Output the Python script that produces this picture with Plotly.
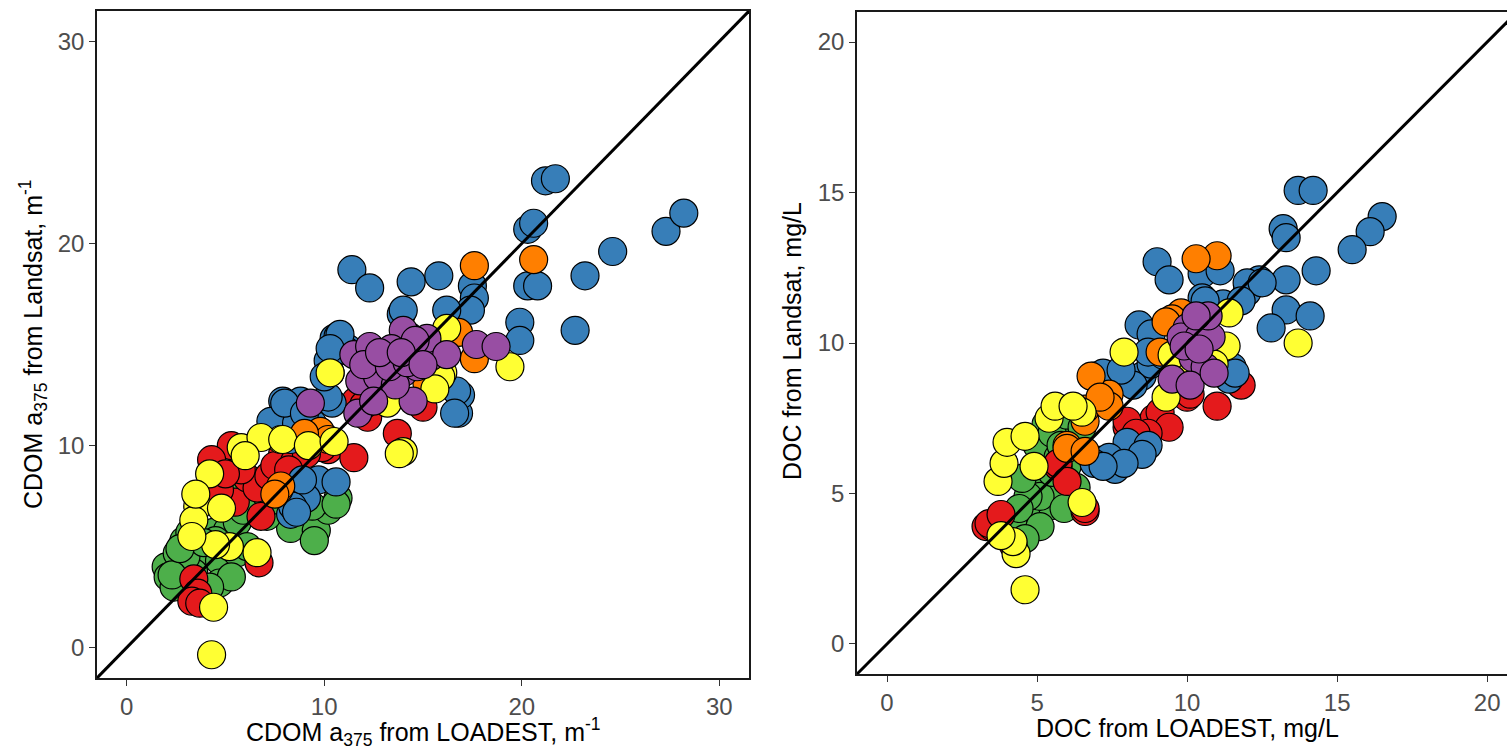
import plotly.graph_objects as go

# ---------------- data: left panel (CDOM a375, m^-1) ----------------
left_green_x = [8.3, 9.6, 9.5, 10.7, 2.0, 2.1, 2.56, 2.9, 3.2, 3.7, 4.4, 5.1, 5.6, 3.4, 4.1, 4.7, 5.6, 4.7, 5.3, 2.9, 3.4, 2.4, 3.7, 4.2, 5.4, 6.3, 7.1, 10.2, 9.4, 6.1, 3.0, 2.3, 4.5, 10.6, 3.9, 2.7, 5.9, 7.4]
left_green_y = [5.9, 5.8, 5.3, 7.4, 4.0, 3.5, 4.67, 5.3, 5.7, 5.7, 5.7, 5.8, 6.2, 4.3, 4.7, 4.3, 4.7, 3.2, 3.5, 3.2, 3.7, 3.0, 2.9, 3.0, 7.9, 7.6, 6.5, 6.8, 7.0, 5.0, 4.5, 3.6, 5.3, 7.1, 5.2, 4.9, 6.8, 7.3]

left_red_x = [5.5, 5.3, 6.1, 6.8, 6.7, 3.4, 3.6, 10.2, 11.5, 9.5, 7.9, 4.7, 6.6, 12.2, 13.7, 15.0, 11.6, 9.9, 3.3, 5.8, 7.2, 12.0, 4.3, 7.5, 3.7, 8.5, 9.1, 8.2, 5.0]
left_red_y = [7.2, 10.0, 8.4, 6.5, 4.2, 3.4, 2.7, 9.8, 9.4, 10.8, 9.6, 7.8, 7.9, 11.4, 10.6, 11.9, 12.2, 9.9, 2.3, 8.8, 8.5, 12.0, 9.3, 9.0, 2.2, 9.2, 9.6, 8.8, 8.6]

left_blue_x = [21.2, 21.7, 20.3, 20.6, 27.3, 28.2, 24.6, 23.2, 22.7, 20.3, 20.8, 19.9, 19.9, 11.4, 12.3, 14.4, 15.8, 17.5, 17.6, 17.4, 16.2, 13.9, 16.8, 16.9, 10.5, 11.2, 10.2, 10.3, 7.9, 8.8, 7.3, 10.4, 8.3, 9.7, 10.6, 8.3, 9.1, 8.4, 8.6, 9.4, 10.7, 11.1, 14.0, 8.0, 10.2, 16.7, 16.6, 8.9, 8.6, 10.8, 10.3, 10.0, 9.0]
left_blue_y = [23.1, 23.2, 20.7, 21.0, 20.6, 21.5, 19.6, 18.4, 15.7, 17.9, 17.9, 16.1, 15.2, 18.7, 17.8, 18.1, 18.4, 17.9, 17.3, 16.7, 16.7, 16.5, 11.6, 12.5, 15.3, 14.8, 14.2, 13.6, 12.2, 12.2, 11.2, 12.1, 10.3, 8.3, 8.2, 6.6, 7.4, 7.0, 11.1, 11.1, 15.4, 14.7, 16.7, 12.1, 12.4, 12.7, 11.6, 8.3, 6.7, 15.5, 14.8, 13.4, 11.6]

left_orange_x = [17.6, 20.6, 17.6, 16.8, 7.7, 9.8, 15.5, 15.2, 10.2, 9.0, 7.8, 7.5]
left_orange_y = [18.9, 19.2, 14.3, 15.6, 7.8, 10.7, 13.3, 13.1, 10.3, 10.6, 8.0, 7.6]

left_yellow_x = [4.3, 4.4, 6.6, 5.8, 7.8, 6.8, 4.2, 3.6, 4.8, 3.4, 10.3, 13.2, 14.0, 16.0, 16.2, 19.4, 7.9, 13.8, 15.9, 3.5, 5.2, 4.5, 3.3, 9.2, 6.0, 10.5, 15.6]
left_yellow_y = [-0.35, 2.0, 4.7, 9.9, 10.3, 10.4, 8.6, 7.0, 6.9, 6.3, 13.6, 12.1, 9.7, 13.6, 15.8, 13.9, 10.3, 9.6, 13.4, 7.6, 5.0, 5.1, 5.5, 10.0, 9.5, 10.2, 12.8]

left_purple_x = [11.5, 12.3, 13.0, 14.3, 15.0, 15.4, 11.8, 12.7, 14.0, 14.7, 14.5, 9.3, 17.7, 18.7, 14.0, 11.7, 13.4, 12.0, 13.6, 15.2, 14.6, 12.5, 16.2, 13.3, 12.8, 14.2, 13.9, 15.0]
left_purple_y = [14.5, 14.9, 14.2, 15.4, 14.9, 14.4, 13.2, 13.4, 13.6, 13.9, 12.2, 12.1, 15.0, 14.9, 15.7, 11.6, 14.8, 14.0, 13.0, 15.3, 15.2, 12.2, 14.5, 13.9, 14.6, 14.1, 14.6, 14.0]

# ---------------- data: right panel (DOC, mg/L) ----------------
right_green_x = [4.15, 4.7, 4.4, 5.0, 5.5, 5.8, 5.0, 5.1, 4.7, 6.0, 5.5, 5.0, 5.7, 4.4, 5.1, 4.6, 5.3, 6.2, 4.5, 6.3, 5.9, 5.5, 6.0, 6.5, 5.8]
right_green_y = [4.15, 3.9, 3.7, 4.4, 4.6, 5.1, 5.4, 4.9, 4.9, 5.9, 5.7, 6.6, 6.2, 4.5, 3.9, 3.5, 7.3, 6.8, 5.5, 5.2, 4.5, 7.0, 7.6, 7.2, 6.6]

right_red_x = [3.3, 3.5, 6.6, 5.7, 7.1, 8.0, 8.9, 8.0, 11.0, 11.8, 10.0, 9.1, 10.1, 3.4, 6.6, 5.7, 3.8, 9.4, 8.7, 4.2, 6.0, 8.3]
right_red_y = [3.9, 3.9, 4.4, 5.9, 6.1, 7.2, 7.5, 7.4, 7.9, 8.6, 8.2, 7.7, 8.3, 4.0, 4.5, 6.0, 4.3, 7.2, 7.0, 3.3, 5.4, 7.0]

right_blue_x = [13.7, 14.2, 16.5, 16.1, 15.5, 13.2, 13.3, 13.3, 14.3, 13.3, 14.1, 12.8, 12.4, 12.0, 9.0, 9.4, 10.5, 11.1, 10.5, 11.2, 8.4, 8.8, 6.9, 7.6, 8.5, 11.5, 11.4, 8.0, 8.7, 7.4, 7.6, 8.5, 6.9, 12.0, 12.5, 10.6, 11.6, 8.8, 7.2, 7.9, 7.2, 11.8, 8.2, 7.8, 9.2, 8.7]
right_blue_y = [15.07, 15.07, 14.2, 13.7, 13.1, 13.8, 13.5, 12.1, 12.4, 11.1, 10.9, 10.5, 12.1, 11.7, 12.7, 12.1, 12.3, 12.4, 11.5, 11.3, 10.6, 10.3, 8.9, 8.8, 8.9, 9.2, 8.8, 6.7, 6.6, 6.2, 5.8, 6.3, 6.0, 12.0, 12.0, 11.4, 9.0, 9.3, 9.0, 6.0, 5.9, 11.4, 8.6, 9.1, 9.6, 9.7]

right_orange_x = [11.0, 10.3, 6.0, 6.6, 7.4, 6.8, 9.8, 9.1, 9.5, 6.0, 6.6, 6.6, 7.4, 7.1, 9.3]
right_orange_y = [12.9, 12.8, 6.6, 7.4, 8.3, 8.9, 11.0, 9.7, 10.8, 6.5, 6.4, 7.8, 7.9, 8.2, 10.7]

right_yellow_x = [4.6, 4.3, 6.5, 3.7, 3.9, 4.9, 4.0, 4.6, 5.4, 6.5, 5.6, 7.9, 13.7, 11.4, 9.9, 9.5, 11.3, 6.2, 4.2, 3.8, 9.3, 10.9]
right_yellow_y = [1.8, 3.0, 4.7, 5.4, 6.0, 5.9, 6.7, 6.9, 7.5, 7.7, 7.9, 9.7, 10.0, 11.0, 8.8, 9.6, 9.9, 7.9, 3.4, 3.6, 8.2, 9.3]

right_purple_x = [10.0, 10.6, 9.8, 10.4, 10.8, 10.2, 10.6, 9.5, 10.1, 10.9, 10.7, 10.3, 9.9, 10.4]
right_purple_y = [10.5, 10.7, 10.2, 10.2, 10.2, 9.5, 9.2, 8.8, 8.6, 9.0, 10.9, 10.9, 9.9, 9.8]

# axis ranges / ticks / identity line extents
left_range = [-1.5, 31.5]
left_ticks = [0, 10, 20, 30]
right_xrange = [-1, 20.66]
right_yrange = [-1, 21]
right_ticks = [0, 5, 10, 15, 20]

# Set1 palette
COL = {"green": "#4DAF4A", "red": "#E41A1C", "blue": "#377EB8",
       "orange": "#FF7F00", "yellow": "#FFFF33", "purple": "#984EA3"}

left_series = [("green", left_green_x, left_green_y), ("red", left_red_x, left_red_y),
               ("blue", left_blue_x, left_blue_y), ("orange", left_orange_x, left_orange_y),
               ("yellow", left_yellow_x, left_yellow_y), ("purple", left_purple_x, left_purple_y)]
right_series = [("green", right_green_x, right_green_y), ("red", right_red_x, right_red_y),
                ("blue", right_blue_x, right_blue_y), ("orange", right_orange_x, right_orange_y),
                ("yellow", right_yellow_x, right_yellow_y), ("purple", right_purple_x, right_purple_y)]

fig = go.Figure()

def add_points(series, xa, ya):
    for name, xs, ys in series:
        fig.add_trace(go.Scatter(
            x=xs, y=ys, mode="markers", xaxis=xa, yaxis=ya, showlegend=False,
            marker=dict(size=28, color=COL[name], line=dict(color="black", width=1.2))))

add_points(left_series, "x", "y")
add_points(right_series, "x2", "y2")

fig.add_trace(go.Scatter(x=left_range, y=left_range, mode="lines", xaxis="x", yaxis="y",
                         line=dict(color="black", width=3), showlegend=False))
fig.add_trace(go.Scatter(x=right_yrange, y=right_yrange, mode="lines", xaxis="x2", yaxis="y2",
                         line=dict(color="black", width=3), showlegend=False))

W, H = 1507, 753
def px(v): return v / W
def py(v): return (H - v) / H

tickfont = dict(family="Liberation Sans, Arial, sans-serif", size=24, color="#4D4D4D")
titlefont = dict(family="Liberation Sans, Arial, sans-serif", size=25, color="black")
axcommon = dict(showgrid=False, zeroline=False, showline=True, linecolor="#1a1a1a", linewidth=1.5,
                ticks="outside", ticklen=6, tickwidth=1.3, tickcolor="#333333", tickfont=tickfont)

fig.update_layout(
    width=W, height=H, margin=dict(l=0, r=0, t=0, b=0),
    paper_bgcolor="white", plot_bgcolor="white",
    xaxis=dict(domain=[px(97), px(749)], range=left_range, tickvals=left_ticks, mirror=True,
               anchor="y", **axcommon),
    yaxis=dict(domain=[py(678), py(11)], range=left_range, tickvals=left_ticks, mirror=True,
               anchor="x", **axcommon),
    xaxis2=dict(domain=[px(857), 1.0], range=right_xrange, tickvals=right_ticks, mirror=True,
                anchor="y2", **axcommon),
    yaxis2=dict(domain=[py(674), py(12)], range=right_yrange, tickvals=right_ticks, mirror=False,
                anchor="x2", **axcommon),
    annotations=[
        dict(text="CDOM a<sub>375</sub> from LOADEST, m<sup>-1</sup>", x=px(423), y=py(732),
             xref="paper", yref="paper", showarrow=False, xanchor="center", yanchor="middle", font=titlefont),
        dict(text="CDOM a<sub>375</sub> from Landsat, m<sup>-1</sup>", x=px(33), y=py(344),
             xref="paper", yref="paper", showarrow=False, xanchor="center", yanchor="middle",
             textangle=-90, font=titlefont),
        dict(text="DOC from LOADEST, mg/L", x=px(1187), y=py(728),
             xref="paper", yref="paper", showarrow=False, xanchor="center", yanchor="middle", font=titlefont),
        dict(text="DOC from Landsat, mg/L", x=px(792), y=py(341),
             xref="paper", yref="paper", showarrow=False, xanchor="center", yanchor="middle",
             textangle=-90, font=titlefont),
    ],
)

fig.write_html("out.html")
